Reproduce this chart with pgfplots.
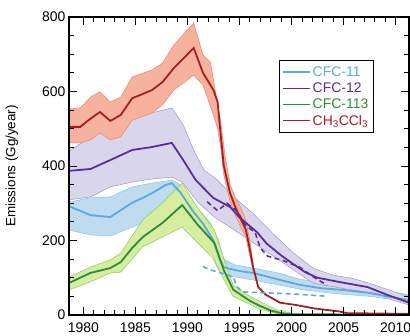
\documentclass[border=0pt]{standalone}
\usepackage{pgfplots}
\pgfplotsset{compat=1.18}
\usepackage{fontspec}
\setmainfont{Liberation Sans}
\definecolor{c11}{HTML}{5AAADC}
\definecolor{c11b}{HTML}{BFDBF0}
\definecolor{c11e}{HTML}{8CC4E8}
\definecolor{c12}{HTML}{5A2D9C}
\definecolor{c12b}{HTML}{D9D6EB}
\definecolor{c12e}{HTML}{A395CF}
\definecolor{c113}{HTML}{2A8C3C}
\definecolor{c113b}{HTML}{D6EC9E}
\definecolor{c113e}{HTML}{8CCB68}
\definecolor{cmcl}{HTML}{A81C24}
\definecolor{cmclb}{HTML}{F7B29D}
\definecolor{cmcle}{HTML}{E8826F}
\begin{document}
\begin{tikzpicture}
\begin{axis}[
  at={(69bp,21bp)}, anchor=south west, scale only axis,
  width=340bp, height=298bp,
  xmin=1978.63, xmax=2011.28, ymin=0, ymax=800,
  xtick={1980,1985,...,2010}, minor x tick num=4,
  ytick={0,200,...,800}, minor y tick num=3,
  tick align=inside, major tick length=8bp, minor tick length=5bp,
  every tick/.style={black, line width=0.9pt},
  axis line style={line width=1.2pt},
  /pgf/number format/1000 sep={},
  /pgf/number format/assume math mode=true,
  tick label style={font=\fontsize{14}{14}\selectfont},
  xticklabel style={yshift=-4bp},
  ylabel={Emissions (Gg/year)},
  every axis y label/.style={at={(axis description cs:-0.168,0.5)}, rotate=90, anchor=center, font=\fontsize{13.5}{14}\selectfont},
  axis on top,
  legend style={at={(axis description cs:0.618,0.856)}, anchor=north west, draw=black, line width=0.9pt, fill=white, font=\fontsize{14}{14}\selectfont, row sep=1pt, inner xsep=3pt, inner ysep=4pt},
  legend cell align=left,
  legend image code/.code={\draw[#1, line width=1.2pt] (0bp,0bp) -- (27bp,0bp);},
]
% bands
\addplot[fill=c11b, draw=c11e, line width=0.5pt, forget plot] coordinates {
(1978.63,303) (1980.7,315) (1982.6,317) (1984.7,344) (1986.6,354) (1988.5,362) (1989.3,350) (1990.5,300) (1991.5,270) (1992.2,247) (1993,200) (1993.5,150) (1994.5,135) (1996.5,125) (1998.9,112) (2000.8,96) (2004,82) (2007.5,72) (2011.28,54)
(2011.28,36) (2007.5,50) (2004,58) (2001,68) (1998.9,80) (1996.3,94) (1994,105) (1993,120) (1992.5,150) (1991.5,200) (1990,240) (1988,265) (1986,250) (1984.7,236) (1982.6,212) (1980.7,215) (1978.63,228)
} -- cycle;
\addplot[fill=c12b, draw=c12e, line width=0.5pt, forget plot] coordinates {
(1978.63,440) (1980.7,478) (1982.6,500) (1984.7,529) (1988.5,556) (1989.6,510) (1990.6,443) (1991.6,389) (1992.9,362) (1994.4,318) (1996.3,273) (1998.2,219) (2000.2,166) (2002.1,125) (2004,107) (2005.9,98) (2007.5,85) (2009.4,67) (2011.28,49)
(2011.28,27) (2009.7,40) (2008.2,58) (2005.9,67) (2004,76) (2002.1,85) (2000.2,121) (1998.8,148) (1996.9,183) (1995,219) (1992.6,263) (1991,303) (1989.5,357) (1988.5,370) (1986.6,365) (1984.7,357) (1982.6,344) (1980.7,317) (1978.63,309)
} -- cycle;
\addplot[fill=c113b, draw=c113e, line width=0.5pt, forget plot] coordinates {
(1978.63,102) (1980.7,129) (1982.6,148) (1983.6,166) (1985.7,255) (1987.6,301) (1989.5,354) (1991,287) (1992.6,228) (1993.5,150) (1994.4,80) (1995.5,58) (1997,36) (1998.5,15) (2000,5)
(2000,0) (1998.5,4) (1997,15) (1995.5,35) (1994.4,50) (1993.5,95) (1992.6,148) (1991,193) (1989.5,236) (1987.6,209) (1985.7,183) (1983.6,115) (1982.6,113) (1980.7,89) (1978.63,67)
} -- cycle;
\addplot[fill=cmclb, draw=cmcle, line width=0.5pt, forget plot] coordinates {
(1978.63,553) (1979.7,556) (1980.7,585) (1981.6,599) (1982.6,572) (1983.6,585) (1984.7,639) (1986.6,658) (1987.6,676) (1988.7,725) (1990.6,784) (1991.5,698) (1992.2,679) (1992.7,599) (1993.2,520) (1993.6,430) (1994.1,350) (1994.6,315) (1995.1,290) (1995.6,255) (1996.0,200) (1996.3,140)
(1996.3,120) (1995.9,170) (1995.6,210) (1995.05,240) (1994.6,268) (1994.1,305) (1993.5,375) (1993.2,450) (1992.9,500) (1992.5,537) (1991.5,617) (1990.6,644) (1988.7,604) (1987.6,564) (1986.6,542) (1984.7,523) (1983.6,478) (1982.6,470) (1981.6,489) (1980.7,470) (1979.7,462) (1978.63,462)
} -- cycle;
% lines
\addplot[c11, line width=1.8pt] coordinates {
(1978.63,292) (1980.7,268) (1982.6,263) (1984.5,298) (1986.6,327) (1987.9,349) (1988.5,354) (1989.3,330) (1990.5,280) (1991.5,245) (1992.5,200) (1993.1,150) (1993.5,128) (1995,118) (1996.3,113) (1998.9,94) (2000.8,81) (2002.8,72) (2005,67) (2007.3,60) (2009.2,50) (2011.28,40)
};
\addlegendentry{\textcolor{c11}{CFC-11}}
\addplot[c12, line width=1.8pt] coordinates {
(1978.63,387) (1980.7,392) (1982.6,416) (1984.7,443) (1986.6,451) (1988.5,462) (1989.6,416) (1990.8,362) (1992.5,314) (1994.1,290) (1995,262) (1996.7,222) (1997.6,192) (1999,160) (2000,140) (2001.3,115) (2002.5,100) (2004.7,88) (2007.3,75) (2009.2,54) (2011.28,33)
};
\addlegendentry{\textcolor{c12}{CFC-12}}
\addplot[c113, line width=1.8pt] coordinates {
(1978.63,86) (1980.7,113) (1982.6,126) (1983.6,142) (1984.7,180) (1985.7,209) (1987.6,247) (1989.5,295) (1991,242) (1992.6,193) (1993.5,120) (1994.4,68) (1995.1,55) (1996,38) (1997,24) (1998,12) (1999,5) (2000,2) (2011.28,1)
};
\addlegendentry{\textcolor{c113}{CFC-113}}
\addplot[cmcl, line width=1.8pt] coordinates {
(1978.63,505) (1979.7,505) (1980.6,525) (1981.6,545) (1982.6,521) (1983.6,537) (1984.7,582) (1985.6,592) (1986.6,604) (1987.6,625) (1988.7,663) (1989.6,688) (1990.6,717) (1991.5,650) (1992.5,604) (1992.9,572) (1993.2,483) (1993.5,400) (1994.1,327) (1994.6,290) (1995.05,262) (1995.6,230) (1995.9,190) (1996.3,130) (1996.8,75) (1997.5,55) (1998.9,33) (2000.4,27) (2002.1,18) (2004.7,9) (2005.3,5) (2011.28,3)
};
\addlegendentry{\textcolor{cmcl}{CH\textsubscript{3}CCl\textsubscript{3}}}
% dashed
\addplot[c11, line width=1.6pt, dash pattern=on 5pt off 3.5pt, forget plot] coordinates {
(1991.5,130) (1992.2,121) (1993,115) (1994.4,102) (1994.8,75) (1995.3,62) (1997,60) (1999,58) (2001,55) (2003.5,50)
};
\addplot[c12, line width=1.6pt, dash pattern=on 5pt off 3.5pt, forget plot] coordinates {
(1991.9,304) (1992.9,280) (1993.8,300) (1994.8,278) (1995.6,240) (1996.5,222) (1997,180) (1997.7,158) (1999.2,146) (2000.8,128) (2002,104) (2003.4,80)
};
\end{axis}
\pgfresetboundingbox
\path[use as bounding box] (0,0) rectangle (410bp,336bp);
\end{tikzpicture}
\end{document}
